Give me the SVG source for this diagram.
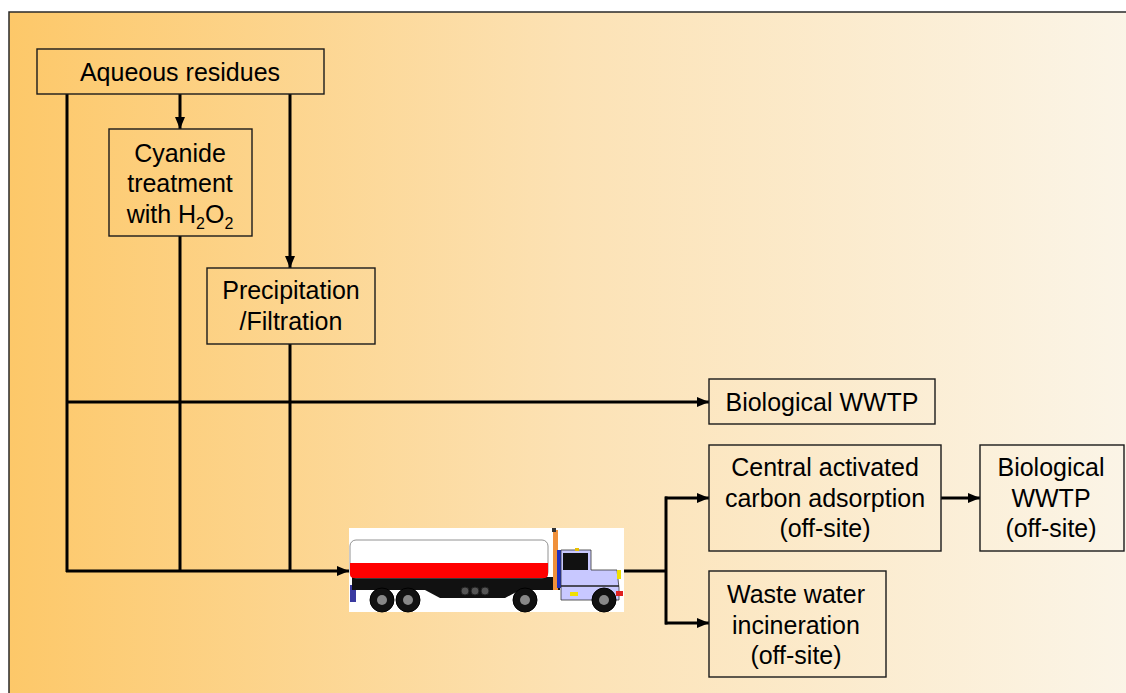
<svg xmlns="http://www.w3.org/2000/svg" width="1126" height="693" viewBox="0 0 1126 693">
  <defs>
    <linearGradient id="bg" x1="0" y1="0" x2="1" y2="0">
      <stop offset="0" stop-color="#FDC869"/>
      <stop offset="0.5" stop-color="#FCE2B5"/>
      <stop offset="1" stop-color="#FBF5E8"/>
    </linearGradient>
    <marker id="arrow" viewBox="0 0 12 10" refX="12" refY="5" markerWidth="12" markerHeight="10" markerUnits="userSpaceOnUse" orient="auto">
      <path d="M0,0 L12,5 L0,10 Z" fill="#000"/>
    </marker>
    <style>
      .box { fill: none; stroke: #1a1a1a; stroke-width: 1.4; }
      .lbl { font-family: "Liberation Sans", Arial, sans-serif; font-size: 25px; fill: #000; text-anchor: middle; }
      .sub { font-size: 16px; }
      .wire { fill: none; stroke: #000; stroke-width: 3; }
      .arr { fill: none; stroke: #000; stroke-width: 3; marker-end: url(#arrow); }
    </style>
  </defs>

  <!-- page background -->
  <rect x="0" y="0" width="1126" height="693" fill="#ffffff"/>
  <rect x="9" y="12" width="1130" height="690" fill="url(#bg)" stroke="#2a2a2a" stroke-width="1.5"/>

  <!-- connectors -->
  <g id="connectors">
    <line class="wire" x1="67" y1="94" x2="67" y2="572"/>
    <line class="arr" x1="180" y1="94" x2="180" y2="129"/>
    <line class="wire" x1="180" y1="236" x2="180" y2="572"/>
    <line class="arr" x1="290" y1="94" x2="290" y2="268"/>
    <line class="wire" x1="290" y1="344" x2="290" y2="572"/>
    <line class="arr" x1="66" y1="402" x2="709" y2="402"/>
    <line class="arr" x1="66" y1="571" x2="349" y2="571"/>
    <line class="wire" x1="624" y1="571" x2="667" y2="571"/>
    <line class="wire" x1="666" y1="496.5" x2="666" y2="624.5"/>
    <line class="arr" x1="665" y1="498" x2="709" y2="498"/>
    <line class="arr" x1="665" y1="623" x2="709" y2="623"/>
    <line class="arr" x1="941" y1="498" x2="980" y2="498"/>
  </g>

  <g id="aqueous-residues">
    <rect class="box" x="37" y="49" width="287" height="45"/>
    <text class="lbl" x="180" y="81">Aqueous residues</text>
  </g>

  <g id="cyanide-treatment">
    <rect class="box" x="109" y="129" width="143" height="107"/>
    <text class="lbl" x="180" y="162">Cyanide</text>
    <text class="lbl" x="180" y="192">treatment</text>
    <text class="lbl" x="180" y="223">with H<tspan class="sub" dy="6">2</tspan><tspan dy="-6">O</tspan><tspan class="sub" dy="6">2</tspan></text>
  </g>

  <g id="precipitation">
    <rect class="box" x="207" y="268" width="168" height="76"/>
    <text class="lbl" x="291" y="299">Precipitation</text>
    <text class="lbl" x="291" y="330">/Filtration</text>
  </g>

  <g id="biological-wwtp">
    <rect class="box" x="709" y="379" width="226" height="45"/>
    <text class="lbl" x="822" y="411">Biological WWTP</text>
  </g>

  <g id="central-carbon">
    <rect class="box" x="709" y="445" width="232" height="106"/>
    <text class="lbl" x="825" y="476">Central activated</text>
    <text class="lbl" x="825" y="507">carbon adsorption</text>
    <text class="lbl" x="825" y="537">(off-site)</text>
  </g>

  <g id="biological-offsite">
    <rect class="box" x="980" y="445" width="144" height="106"/>
    <text class="lbl" x="1051" y="476">Biological</text>
    <text class="lbl" x="1051" y="507">WWTP</text>
    <text class="lbl" x="1051" y="537">(off-site)</text>
  </g>

  <g id="waste-water-incineration">
    <rect class="box" x="709" y="571" width="177" height="106"/>
    <text class="lbl" x="796" y="603">Waste water</text>
    <text class="lbl" x="796" y="634">incineration</text>
    <text class="lbl" x="796" y="664">(off-site)</text>
  </g>

  <!-- tanker truck -->
  <g id="tanker-truck">
    <rect x="349" y="528" width="275" height="84" fill="#ffffff"/>
    <!-- trailer leg -->
    <rect x="350" y="585" width="6" height="17" fill="#3a3aa0"/>
    <!-- chassis -->
    <path d="M352,577 L560,577 L560,590 L520,590 L505,598 L440,598 L425,590 L352,590 Z" fill="#111"/>
    <!-- tank -->
    <rect x="350" y="540" width="198" height="38" rx="6" fill="#ffffff" stroke="#777" stroke-width="0.8"/>
    <path d="M350,563 L548,563 L548,574 Q548,578 544,578 L354,578 Q350,578 350,574 Z" fill="#ff0000"/>
    <!-- spare drums -->
    <circle cx="465" cy="591" r="4" fill="#555" stroke="#222"/>
    <circle cx="475" cy="591" r="4" fill="#555" stroke="#222"/>
    <circle cx="485" cy="591" r="4" fill="#555" stroke="#222"/>
    <!-- exhaust stack -->
    <rect x="553" y="530" width="5" height="60" fill="#f0903a"/>
    <rect x="552" y="528" width="4" height="4" fill="#333"/>
    <rect x="557" y="550" width="4" height="38" fill="#2030c0"/>
    <!-- cab -->
    <path d="M561,550 L591,550 L591,570 L617,570 L619,588 L619,600 L561,600 Z" fill="#c8c8ff" stroke="#333" stroke-width="0.8"/>
    <rect x="563" y="553" width="25" height="17" fill="#111"/>
    <rect x="575" y="548" width="4" height="3" fill="#e8c000"/>
    <rect x="617" y="570" width="4" height="9" fill="#f0e000"/>
    <rect x="616" y="591" width="7" height="5" fill="#e02020"/>
    <rect x="570" y="592" width="8" height="4" fill="#f0e000"/>
    <path d="M561,586 L619,586" stroke="#222" stroke-width="1.5"/>
    <!-- wheels -->
    <g fill="#111" stroke="#000">
      <circle cx="382" cy="600" r="12"/>
      <circle cx="408" cy="600" r="12"/>
      <circle cx="525" cy="600" r="12"/>
      <circle cx="604" cy="600" r="12"/>
    </g>
    <g fill="#888">
      <circle cx="382" cy="600" r="5"/>
      <circle cx="408" cy="600" r="5"/>
      <circle cx="525" cy="600" r="5"/>
      <circle cx="604" cy="600" r="5"/>
    </g>
  </g>
</svg>
